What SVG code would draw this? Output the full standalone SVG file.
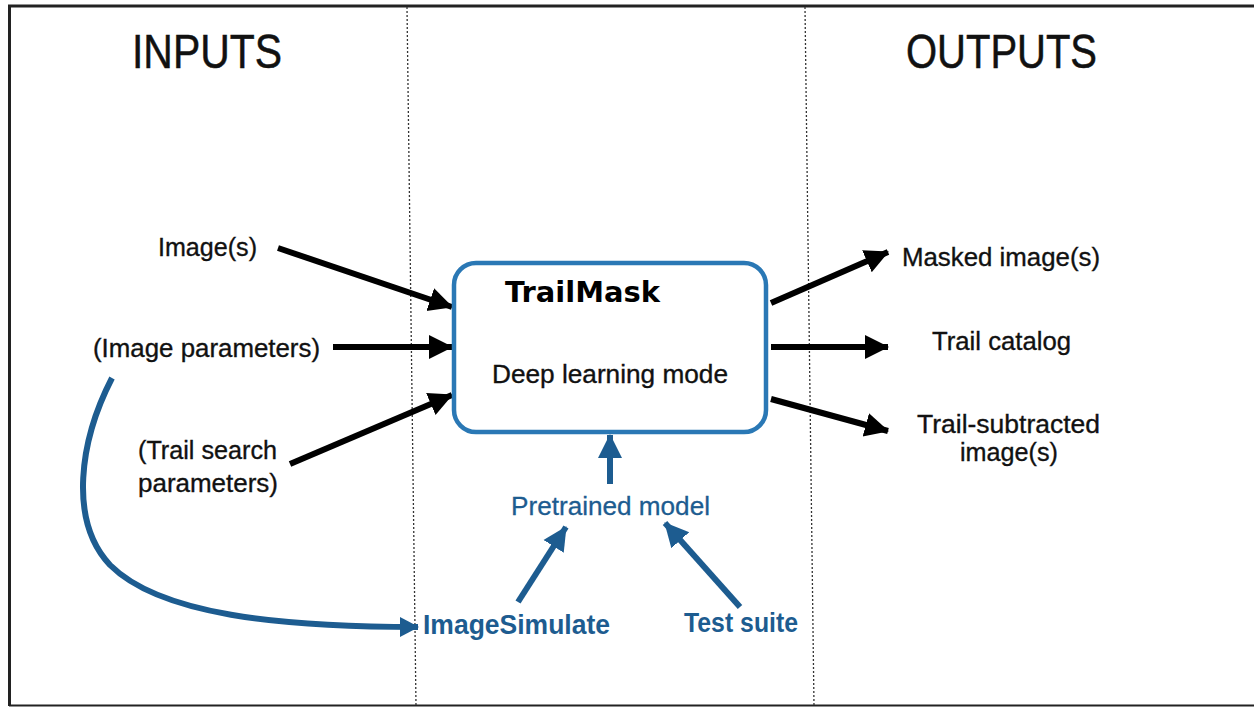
<svg xmlns="http://www.w3.org/2000/svg" width="1254" height="707" viewBox="0 0 1254 707">
<style>
.t{font-family:"Liberation Sans",Arial,sans-serif;font-size:26px;fill:#111;stroke:#111;stroke-width:0.35}
.h{font-family:"Liberation Sans",Arial,sans-serif;font-size:48px;fill:#111;stroke:#111;stroke-width:0.5}
.b{font-family:"Liberation Sans",Arial,sans-serif;font-size:26px;fill:#1d5c90;stroke:#1d5c90;stroke-width:0.3}
.bb{font-family:"Liberation Sans",Arial,sans-serif;font-size:27px;font-weight:bold;fill:#1d5c90}
.k{stroke:#000;stroke-width:6;fill:none}
.bl{stroke:#1d5c90;stroke-width:6;fill:none}
.dot{stroke:#333;stroke-width:1.3;stroke-dasharray:2 2;fill:none}
</style>
<defs>
<marker id="ak" markerUnits="userSpaceOnUse" markerWidth="26" markerHeight="26" refX="23" refY="13" orient="auto">
<path d="M0,1 L24,13 L0,25 z" fill="#000"/>
</marker>
<marker id="ab" markerUnits="userSpaceOnUse" markerWidth="26" markerHeight="26" refX="23" refY="13" orient="auto">
<path d="M0,1 L24,13 L0,25 z" fill="#1d5c90"/>
</marker>
<marker id="ab2" markerUnits="userSpaceOnUse" markerWidth="22" markerHeight="22" refX="18" refY="10" orient="auto">
<path d="M0,0 L19,10 L0,20 z" fill="#1d5c90"/>
</marker>
</defs>
<rect x="0" y="0" width="1254" height="707" fill="#fff"/>
<g id="frame">
<path d="M9.5,706 L9.5,6 L1254,6" stroke="#222" stroke-width="3" fill="none"/>
<path d="M9,705.5 L1254,705.5" stroke="#222" stroke-width="2" fill="none"/>
<line class="dot" x1="407" y1="7" x2="416" y2="706"/>
<line class="dot" x1="805" y1="7" x2="814" y2="706"/>
</g>
<g id="headers">
<text class="h" x="132" y="68" textLength="150" lengthAdjust="spacingAndGlyphs">INPUTS</text>
<text class="h" x="906" y="68" textLength="191" lengthAdjust="spacingAndGlyphs">OUTPUTS</text>
</g>
<g id="connectors">
<line class="k" x1="278" y1="248" x2="452" y2="307" marker-end="url(#ak)"/>
<line class="k" x1="333" y1="347" x2="452" y2="347" marker-end="url(#ak)"/>
<line class="k" x1="290" y1="464" x2="452" y2="395" marker-end="url(#ak)"/>
<line class="k" x1="771" y1="303" x2="888" y2="252" marker-end="url(#ak)"/>
<line class="k" x1="771" y1="347" x2="888" y2="347" marker-end="url(#ak)"/>
<line class="k" x1="771" y1="399" x2="888" y2="431" marker-end="url(#ak)"/>
<line class="bl" x1="610" y1="484" x2="610" y2="435" marker-end="url(#ab)"/>
<line class="bl" x1="518" y1="602" x2="566" y2="527" marker-end="url(#ab)"/>
<line class="bl" x1="740" y1="607" x2="665" y2="523" marker-end="url(#ab)"/>
<path class="bl" stroke-width="4.5" d="M112,378 C80,440 68,520 110,565 C160,615 280,627 418,627" marker-end="url(#ab2)"/>
</g>
<g id="trailmask">
<rect x="454" y="263" width="312" height="169" rx="22" fill="#fff" stroke="#2a78b5" stroke-width="4.5"/>
<text x="505" y="302" font-family="DejaVu Sans,sans-serif" font-weight="bold" font-size="28" fill="#000" textLength="155" lengthAdjust="spacingAndGlyphs">TrailMask</text>
<text class="t" x="492" y="383" textLength="236" lengthAdjust="spacingAndGlyphs">Deep learning mode</text>
</g>
<g id="in-images"><text class="t" x="158" y="256" textLength="99" lengthAdjust="spacingAndGlyphs">Image(s)</text></g>
<g id="in-params"><text class="t" x="93" y="357" textLength="227" lengthAdjust="spacingAndGlyphs">(Image parameters)</text></g>
<g id="in-trail">
<text class="t" x="138" y="459" textLength="139" lengthAdjust="spacingAndGlyphs">(Trail search</text>
<text class="t" x="138" y="492" textLength="140" lengthAdjust="spacingAndGlyphs">parameters)</text>
</g>
<g id="out-masked"><text class="t" x="902" y="266" textLength="198" lengthAdjust="spacingAndGlyphs">Masked image(s)</text></g>
<g id="out-catalog"><text class="t" x="932" y="350" textLength="139" lengthAdjust="spacingAndGlyphs">Trail catalog</text></g>
<g id="out-sub">
<text class="t" x="917" y="433" textLength="183" lengthAdjust="spacingAndGlyphs">Trail-subtracted</text>
<text class="t" x="960" y="461" textLength="98" lengthAdjust="spacingAndGlyphs">image(s)</text>
</g>
<g id="pretrained"><text class="b" x="511" y="515" textLength="199" lengthAdjust="spacingAndGlyphs">Pretrained model</text></g>
<g id="imagesimulate"><text class="bb" x="423" y="634" textLength="187" lengthAdjust="spacingAndGlyphs">ImageSimulate</text></g>
<g id="testsuite"><text class="bb" x="684" y="632" textLength="114" lengthAdjust="spacingAndGlyphs">Test suite</text></g>
</svg>
